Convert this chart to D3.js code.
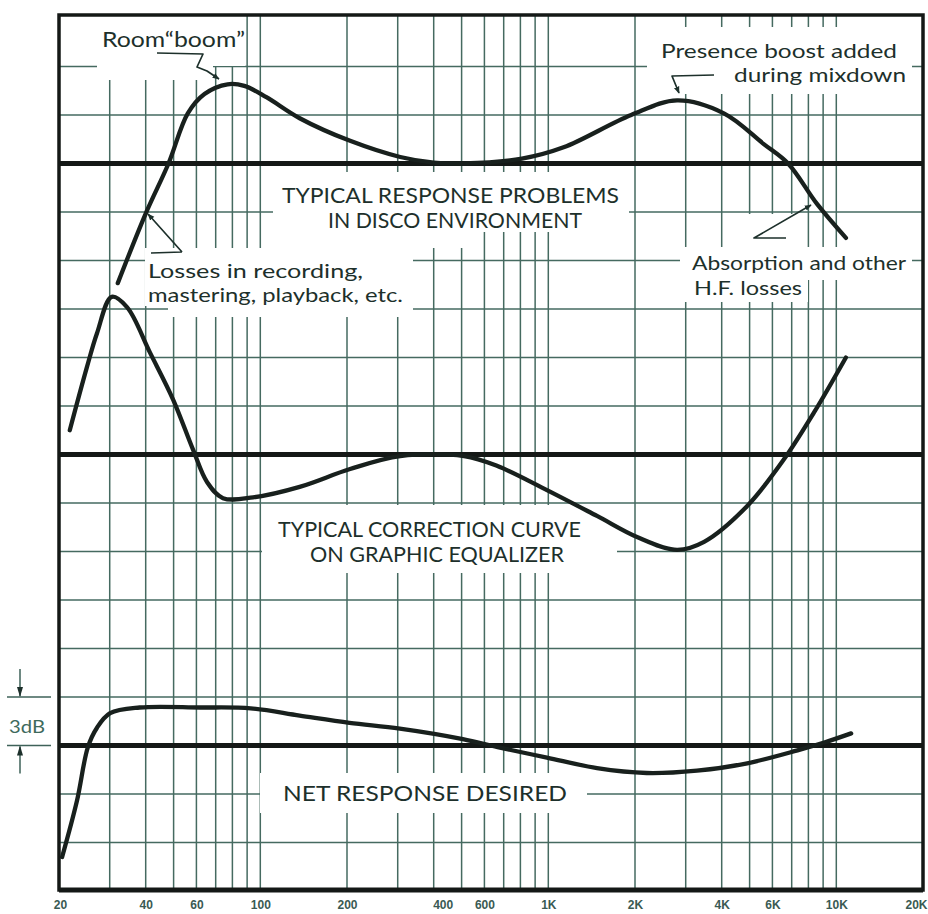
<!DOCTYPE html>
<html><head><meta charset="utf-8">
<script src="https://cdn.jsdelivr.net/npm/d3@7"></script>
<style>html,body{margin:0;padding:0;background:#fff;} svg{display:block;}</style>
</head><body>
<svg id="chart" width="928" height="914"></svg>
<script>
// ---------- DATA ----------
const tickFreqs  = [20, 40, 60, 100, 200, 400, 600, 1000, 2000, 4000, 6000, 10000, 20000];
const tickLabels = ["20","40","60","100","200","400","600","1K","2K","4K","6K","10K","20K"];
const gridFreqs  = [30,40,50,60,70,80,90,100,200,300,400,500,600,700,800,900,1000,
                    2000,3000,4000,5000,6000,7000,8000,9000,10000];
const gridDb     = [24,21,15,12,9,6,3,-3,-6,-9,-12,-15,-21,-24]; // 3 dB divisions
const panelRef   = [18, 0, -18];   // reference (0 dB) level of each panel on the shared scale

// Typical response problems in disco environment (freq Hz, dB)
const responseFreq = [32,40,48,56,64,77,88,105,137,205,306,400,510,810,1130,1940,2800,4070,5600,6800,8570,10800];
const responseDb   = [-7.4,-3.1,0,3.1,4.3,4.9,4.8,4.1,2.8,1.4,0.4,0.05,0,0.3,1.0,3.0,3.9,3.1,1.2,0,-2.5,-4.6];

// Typical correction curve on graphic equalizer
const correctionFreq = [21.8,25,27.1,30.5,34.5,41.4,49.8,58.4,65.3,74.2,94.4,137,205,306,510,663,989,1476,2032,2798,3475,4896,6580,8370,10800];
const correctionDb   = [1.5,5.4,7.5,9.75,9.1,6.3,3.4,0.3,-1.7,-2.7,-2.65,-2.0,-0.9,-0.1,-0.1,-0.7,-2.2,-3.8,-5.1,-5.9,-5.4,-3.2,-0.3,2.6,6.0];

// Net response desired
const netFreq = [20.5,23.1,25.2,27.1,30.1,38.1,61.9,92.6,137,204,305,505,667,989,1476,2196,3283,4906,7333,9137,11260];
const netDb   = [-6.9,-3.4,-0.1,1.1,2.0,2.35,2.35,2.3,1.85,1.4,1.05,0.4,-0.1,-0.75,-1.4,-1.7,-1.55,-1.1,-0.3,0.2,0.75];

// ---------- SETUP ----------
const INK = "#18201d", GRID = "#456a60", TXT = "#1d302b";
const L = 59, R = 923, T = 15, B = 890;
const svg = d3.select("#chart");
const x = d3.scaleLog().domain([20, 20000]).range([L, R]);
const y = d3.scaleLinear().domain([27, -27]).range([18, 891]);

// grid
const g = svg.append("g");
g.selectAll("line.v").data(gridFreqs).join("line")
  .attr("x1", d => x(d)).attr("x2", d => x(d)).attr("y1", T).attr("y2", B)
  .attr("stroke", GRID).attr("stroke-width", 1.5);
g.selectAll("line.h").data(gridDb).join("line")
  .attr("x1", L).attr("x2", R).attr("y1", d => y(d)).attr("y2", d => y(d))
  .attr("stroke", GRID).attr("stroke-width", 1.5);

// white patches behind the lettering (gaps in the paper grid)
const patches = [
  [97,16,148,50],[97,66,116,14],
  [647,27,265,67],
  [273,172,356,60],[273,232,200,16],
  [145,248,268,58],[168,306,245,11],
  [745,214,55,33],[680,247,232,33],[680,280,128,22],
  [262,505,355,68],
  [260,773,327,40]
];
svg.append("g").selectAll("rect").data(patches).join("rect")
  .attr("x", d => d[0]).attr("y", d => d[1]).attr("width", d => d[2]).attr("height", d => d[3])
  .attr("fill", "#fff");

// reference lines
svg.append("g").selectAll("line").data(panelRef).join("line")
  .attr("x1", L).attr("x2", R).attr("y1", d => y(d)).attr("y2", d => y(d))
  .attr("stroke", "#141816").attr("stroke-width", 5);

// frame
svg.append("rect").attr("x", L).attr("y", T).attr("width", R - L).attr("height", B - T)
  .attr("fill", "none").attr("stroke", "#141816").attr("stroke-width", 3.5);
svg.append("line").attr("x1", L).attr("x2", R).attr("y1", B).attr("y2", B)
  .attr("stroke", "#141816").attr("stroke-width", 5);

// curves
const series = [
  {f: responseFreq, v: responseDb, off: panelRef[0]},
  {f: correctionFreq, v: correctionDb, off: panelRef[1]},
  {f: netFreq, v: netDb, off: panelRef[2]}
];
series.forEach(s => {
  const pts = s.f.map((f, i) => [f, s.v[i] + s.off]);
  svg.append("path").datum(pts)
    .attr("d", d3.line().x(d => x(d[0])).y(d => y(d[1])).curve(d3.curveCatmullRom.alpha(0.5)))
    .attr("fill", "none").attr("stroke", INK).attr("stroke-width", 4.3)
    .attr("stroke-linecap", "round");
});

// axis labels
const ax = svg.append("g").attr("transform", "translate(0,909)")
  .call(d3.axisBottom(x).tickValues(tickFreqs).tickFormat((d, i) => tickLabels[i]).tickSize(0).tickPadding(0));
ax.select(".domain").remove();
ax.selectAll("text").attr("y", 0).attr("dy", null)
  .attr("font-family", "'Liberation Sans', Arial, sans-serif").attr("font-weight", "bold")
  .attr("font-size", 12).attr("fill", "#3a5a53")
  .attr("dx", d => d === 20000 ? 4 : d === 400 ? 9 : d === 20 ? 1 : 0)
  .attr("text-anchor", d => d === 20000 ? "end" : "middle");

// arrow marker
const defs = svg.append("defs");
defs.append("marker").attr("id", "arr").attr("viewBox", "0 0 10 10")
  .attr("refX", 9).attr("refY", 5).attr("markerWidth", 7).attr("markerHeight", 7)
  .attr("markerUnits", "userSpaceOnUse").attr("orient", "auto")
  .append("path").attr("d", "M0,1 L10,5 L0,9 Z").attr("fill", TXT);
defs.append("marker").attr("id", "arrS").attr("viewBox", "0 0 10 10")
  .attr("refX", 9).attr("refY", 5).attr("markerWidth", 10).attr("markerHeight", 10)
  .attr("markerUnits", "userSpaceOnUse").attr("orient", "auto")
  .append("path").attr("d", "M0,2 L10,5 L0,8 Z").attr("fill", TXT);

// leaders
const leaders = [
  "M157,53 L203,54 L197,67 L207,71 L219,79",
  "M182,252 L151,253 M182,252 L148,214",
  "M714,75 L672,76 L679,93",
  "M786,238 L754,238 L811,205"
];
svg.append("g").selectAll("path").data(leaders).join("path")
  .attr("d", d => d).attr("fill", "none").attr("stroke", TXT).attr("stroke-width", 1.7)
  .attr("stroke-linejoin", "round").attr("marker-end", "url(#arr)");

// lettering
const texts = [
  {t: "Room\u201Cboom\u201D", x: 102, y: 47, w: 143, s: 21},
  {t: "Presence boost added", x: 661, y: 58, w: 236, s: 19},
  {t: "during mixdown", x: 734, y: 82, w: 172, s: 19},
  {t: "TYPICAL RESPONSE PROBLEMS", x: 282, y: 203, w: 337, s: 21},
  {t: "IN DISCO ENVIRONMENT", x: 328, y: 228, w: 254, s: 21},
  {t: "Losses in recording,", x: 148, y: 278, w: 215, s: 20},
  {t: "mastering, playback, etc.", x: 148, y: 302, w: 255, s: 20},
  {t: "Absorption and other", x: 692, y: 270, w: 214, s: 19},
  {t: "H.F. losses", x: 694, y: 295, w: 108, s: 19},
  {t: "TYPICAL CORRECTION CURVE", x: 278, y: 537, w: 303, s: 21},
  {t: "ON GRAPHIC EQUALIZER", x: 310, y: 562, w: 254, s: 21},
  {t: "NET RESPONSE DESIRED", x: 283, y: 801, w: 284, s: 21}
];
svg.append("g").selectAll("text").data(texts).join("text")
  .attr("x", d => d.x).attr("y", d => d.y).text(d => d.t)
  .attr("textLength", d => d.w).attr("lengthAdjust", "spacingAndGlyphs")
  .attr("font-family", "Lato, 'Open Sans', sans-serif").attr("font-size", d => d.s)
  .attr("fill", TXT);

// 3 dB bracket
const b = svg.append("g").attr("stroke", "#3e6259").attr("stroke-width", 1.5);
[panelRef[2] + 3, panelRef[2]].forEach(v => {
  b.append("line").attr("x1", 7).attr("x2", 51).attr("y1", y(v)).attr("y2", y(v));
});
b.append("line").attr("x1", 20).attr("x2", 20).attr("y1", y(panelRef[2] + 3) - 28).attr("y2", y(panelRef[2] + 3) - 1)
  .attr("marker-end", "url(#arrS)");
b.append("line").attr("x1", 20).attr("x2", 20).attr("y1", y(panelRef[2]) + 28).attr("y2", y(panelRef[2]) + 1)
  .attr("marker-end", "url(#arrS)");
svg.append("text").attr("x", 9).attr("y", 733).text("3dB")
  .attr("textLength", 36).attr("lengthAdjust", "spacingAndGlyphs")
  .attr("font-family", "Lato, sans-serif").attr("font-size", 17).attr("fill", "#3e6a5c");
</script>
</body></html>
